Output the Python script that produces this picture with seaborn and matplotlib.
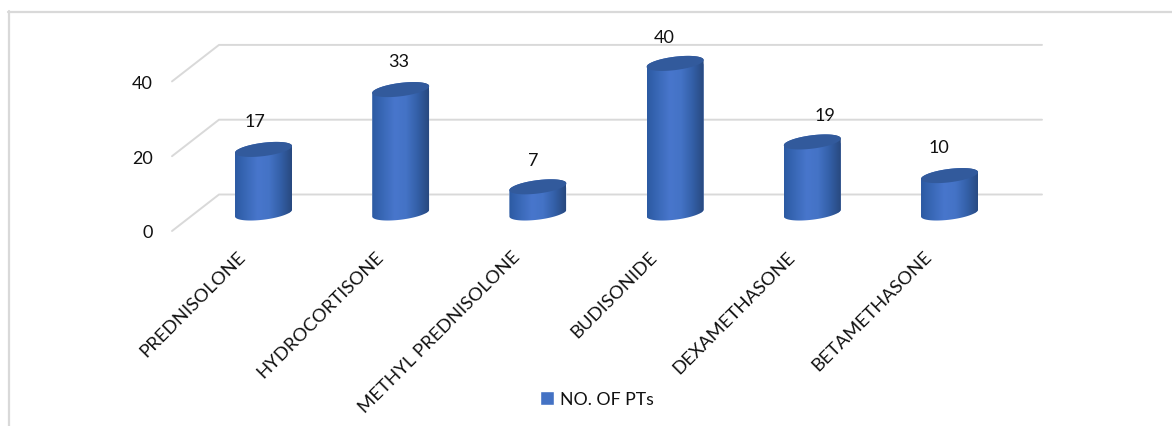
import numpy as np
import pandas as pd
import matplotlib
matplotlib.use("Agg")
import matplotlib.pyplot as plt
from matplotlib.lines import Line2D
from matplotlib.patches import Patch, Polygon
from matplotlib.colors import LinearSegmentedColormap
from matplotlib.transforms import ScaledTranslation
import seaborn as sns

drugs = ["PREDNISOLONE", "HYDROCORTISONE", "METHYL PREDNISOLONE",
         "BUDISONIDE", "DEXAMETHASONE", "BETAMETHASONE"]
patients = [17, 33, 7, 40, 19, 10]
series_name = "NO. OF PTs"
value_ticks = [0, 20, 40]

# nudges of the value labels in pixels (right, up from the cylinder top)
label_dx = [-9, -2, -5, -11, 13, -11]
label_dy = [28, 29, 27, 26, 27, 29]

W, H = 1172, 427
sns.set_theme(style="white")
plt.rcParams["font.family"] = ["Lato", "DejaVu Sans"]

fig = plt.figure(figsize=(W / 100, H / 100), dpi=100)
ax_left, ax_right, ax_top, ax_bottom = 172, 1042, 46, 232
ax = fig.add_axes([ax_left / W, 1 - ax_bottom / H,
                   (ax_right - ax_left) / W, (ax_bottom - ax_top) / H])

px_per_unit = 3.74
px_per_cat = 137.2
first_center = 263.5

frame = pd.DataFrame({"drug": drugs, "patients": patients})
sns.barplot(data=frame, x="drug", y="patients", ax=ax, width=57 / px_per_cat,
            color="#4472C4", saturation=1, errorbar=None, zorder=3)

ax.set_xlim((ax_left - first_center) / px_per_cat,
            (ax_right - first_center) / px_per_cat)
ax.set_ylim(0, (ax_bottom - ax_top) / px_per_unit)
xlim, ylim = ax.get_xlim(), ax.get_ylim()

# Floor depth: the back wall sits up and to the right of the front edge
depth_x = 47 / px_per_cat
depth_y = 36.5 / px_per_unit
for v in value_ticks:
    ax.add_line(Line2D([xlim[0], xlim[0] + depth_x, xlim[1]],
                       [v, v + depth_y, v + depth_y],
                       color="#D9D9D9", lw=1.4, clip_on=False, zorder=1))

# Cylinders stand on the middle of the floor
base = (ax_bottom - 214) / px_per_unit
half_w = 28.5 / px_per_cat
rim_b = 6.7 / px_per_unit
rim_slope = 0.12 * 28.5 / px_per_unit

body_cmap = LinearSegmentedColormap.from_list(
    "cylinder", ["#2C5AA2", "#3A69B8", "#4876CC", "#4473C6", "#3460A8", "#28497F"])
gradient = np.linspace(0, 1, 128)[None, :]
t = np.linspace(0, 2 * np.pi, 120)

def rim(cx, cy):
    return np.column_stack([cx + half_w * np.cos(t),
                            cy + rim_slope * np.cos(t) + rim_b * np.sin(t)])

for bar, v, dx, dy in zip(ax.patches, patients, label_dx, label_dy):
    cx = bar.get_x() + bar.get_width() / 2
    bar.set_y(base)
    top = base + v

    # Silhouette: lower half of the base rim joined to the top rim's upper half
    lower = rim(cx, base)[60:]
    upper = rim(cx, top)[:61]
    outline = Polygon(np.vstack([upper, lower]), closed=True,
                      transform=ax.transData, facecolor="none", edgecolor="none")
    ax.add_patch(outline)
    bar.set_clip_path(outline)
    img = ax.imshow(gradient, cmap=body_cmap, aspect="auto", zorder=4,
                    extent=[cx - half_w, cx + half_w, base - 10, top + 10])
    img.set_clip_path(outline)
    img.set_clip_on(True)

    ax.add_patch(Polygon(rim(cx, top), closed=True, facecolor="#325A9C",
                         edgecolor="none", zorder=5))
    ax.annotate(str(v), (cx, top), xytext=(dx * 0.72, dy * 0.72),
                textcoords="offset points", ha="center", va="center",
                fontsize=13, color="#111111", zorder=6, annotation_clip=False)

ax.set_xlim(xlim)
ax.set_ylim(ylim)
ax.set_xlabel("")
ax.set_ylabel("")
ax.set_yticks(value_ticks)
ax.set_xticks(range(len(drugs)))
ax.set_xticklabels(drugs, rotation=45, ha="right", rotation_mode="anchor",
                   fontsize=13.3, color="#111111")
ax.tick_params(axis="x", length=0, pad=12)
ax.tick_params(axis="y", length=0, pad=14, labelsize=13, labelcolor="#111111")
sns.despine(ax=ax, left=True, bottom=True)
ax.patch.set_alpha(0)

# Category names hang from the front edge of the floor, left of each cylinder
shift = ScaledTranslation(-26 / 100, 0, fig.dpi_scale_trans)
for label in ax.get_xticklabels():
    label.set_transform(label.get_transform() + shift)

# Legend centred under the plot
fig.legend(handles=[Patch(facecolor="#4472C4", label=series_name)],
           loc="center", bbox_to_anchor=(597 / W, 1 - 400 / H),
           frameon=False, fontsize=12.7, handlelength=0.75, handleheight=0.8,
           handletextpad=0.35, labelcolor="#111111")

# Chart frame: only the top and left edges fall inside the canvas
for xs, ys in [((8, W), (12.5, 12.5)), ((8.5, 8.5), (12, H))]:
    fig.add_artist(Line2D([x / W for x in xs], [1 - y / H for y in ys],
                          color="#D9D9D9", lw=1.6))

fig.savefig("out.png", dpi=100, facecolor="white")
